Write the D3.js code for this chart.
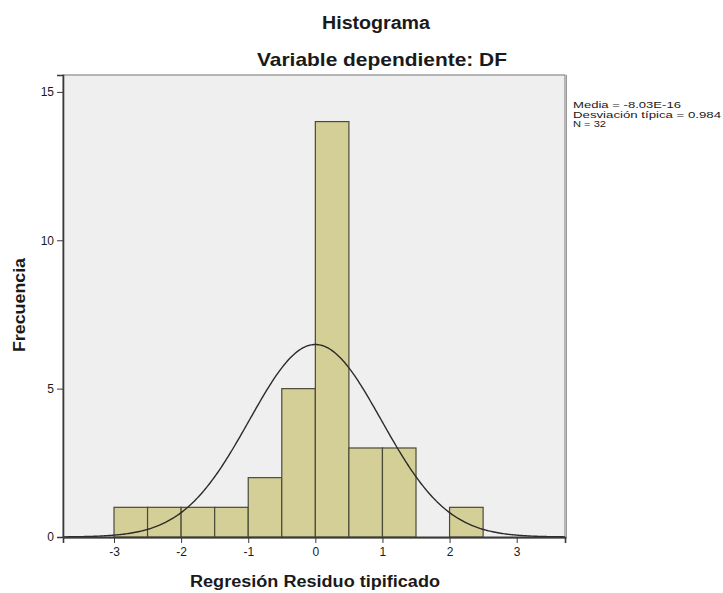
<!DOCTYPE html>
<html>
<head>
<meta charset="utf-8">
<script src="https://cdn.jsdelivr.net/npm/d3@7/dist/d3.min.js"></script>
<style>
  html, body { margin: 0; padding: 0; background: #ffffff; }
  svg { display: block; }
  text { font-family: "Liberation Sans", Arial, sans-serif; fill: #1a1a1a; }
</style>
</head>
<body>
<svg id="chart" width="723" height="593"></svg>
<script>
// ---- data ----
const binEdges = [-3, -2.5, -2, -1.5, -1, -0.5, 0, 0.5, 1, 1.5, 2, 2.5];
const counts   = [1, 1, 1, 1, 2, 5, 14, 3, 3, 0, 1];
const xTicks   = [-3, -2, -1, 0, 1, 2, 3];
const yTicks   = [0, 5, 10, 15];
const statMean = -8.03e-16;
const statSd   = 0.984;
const statN    = 32;
const legendLines = ["Media = -8.03E-16", "Desviación típica = 0.984", "N = 32"];
const titleLines  = ["Histograma", "Variable dependiente: DF"];
const xLabel = "Regresión Residuo tipificado";
const yLabel = "Frecuencia";

// ---- layout ----
const svg = d3.select("#chart");
const plot = { left: 63, right: 565, top: 75, bottom: 537 };

const x = d3.scaleLinear().domain([-3.76, 3.72]).range([plot.left, plot.right]);
const y = d3.scaleLinear().domain([0, 15.57]).range([plot.bottom, plot.top]);

// plot background + frame
svg.append("rect")
  .attr("x", plot.left).attr("y", plot.top)
  .attr("width", plot.right - plot.left).attr("height", plot.bottom - plot.top)
  .attr("fill", "#efefef");

svg.append("line").attr("x1", plot.right + 1.5).attr("x2", plot.right + 1.5)
  .attr("y1", plot.top).attr("y2", plot.bottom + 1.5)
  .attr("stroke", "#9a9a9a").attr("stroke-width", 1);
svg.append("line").attr("x1", plot.left).attr("x2", plot.right + 1.5)
  .attr("y1", plot.bottom + 1.5).attr("y2", plot.bottom + 1.5)
  .attr("stroke", "#9a9a9a").attr("stroke-width", 1);
svg.append("rect")
  .attr("x", plot.left).attr("y", plot.top)
  .attr("width", plot.right - plot.left).attr("height", plot.bottom - plot.top)
  .attr("fill", "none").attr("stroke", "#8a8a8a").attr("stroke-width", 1.2);

// bars
const bins = counts.map((c, i) => ({ x0: binEdges[i], x1: binEdges[i + 1], c }));
svg.append("g").selectAll("rect")
  .data(bins.filter(d => d.c > 0))
  .join("rect")
  .attr("x", d => x(d.x0))
  .attr("y", d => y(d.c))
  .attr("width", d => x(d.x1) - x(d.x0))
  .attr("height", d => y(0) - y(d.c))
  .attr("fill", "#d4cf97")
  .attr("stroke", "#4b4a38")
  .attr("stroke-width", 1.2);

// normal curve from the stated statistics
const bw = binEdges[1] - binEdges[0];
const pdf = v => statN * bw * Math.exp(-0.5 * Math.pow((v - statMean) / statSd, 2)) / (statSd * Math.sqrt(2 * Math.PI));
const xs = d3.range(x.domain()[0], x.domain()[1] + 0.001, 0.02);
svg.append("path")
  .datum(xs)
  .attr("d", d3.line().x(v => x(v)).y(v => y(pdf(v))))
  .attr("fill", "none")
  .attr("stroke", "#2b2b2b")
  .attr("stroke-width", 1.4);

// axes
const yAxis = d3.axisLeft(y).tickValues(yTicks).tickSize(6).tickPadding(3).tickFormat(d3.format("d"));
const gy = svg.append("g").attr("transform", `translate(${plot.left},0)`).call(yAxis);
gy.select(".domain").attr("stroke", "#3a3a3a").attr("stroke-width", 1.6);
gy.selectAll(".tick line").attr("stroke", "#3a3a3a");
gy.selectAll(".tick text").style("font-size", "12px").style("font-family", "Liberation Sans, Arial, sans-serif").attr("fill", "#333");

const xAxis = d3.axisBottom(x).tickValues(xTicks).tickSize(6).tickPadding(4).tickFormat(d3.format("d"));
const gx = svg.append("g").attr("transform", `translate(0,${plot.bottom})`).call(xAxis);
gx.select(".domain").attr("stroke", "#3a3a3a").attr("stroke-width", 1.6);
gx.selectAll(".tick line").attr("stroke", "#3a3a3a");
gx.selectAll(".tick text").style("font-size", "12px").style("font-family", "Liberation Sans, Arial, sans-serif").attr("fill", "#333")
  .text(d => d < 0 ? "-" + Math.abs(d) : String(d));

// titles
svg.append("text").attr("x", 376).attr("y", 29).attr("text-anchor", "middle")
  .style("font-size", "18px").style("font-weight", "bold")
  .attr("textLength", 108).attr("lengthAdjust", "spacingAndGlyphs")
  .text(titleLines[0]);
svg.append("text").attr("x", 382).attr("y", 66).attr("text-anchor", "middle")
  .style("font-size", "19px").style("font-weight", "bold")
  .attr("textLength", 250).attr("lengthAdjust", "spacingAndGlyphs")
  .text(titleLines[1]);

// axis labels
svg.append("text").attr("x", 315).attr("y", 587).attr("text-anchor", "middle")
  .style("font-size", "16px").style("font-weight", "bold")
  .attr("textLength", 250).attr("lengthAdjust", "spacingAndGlyphs")
  .text(xLabel);
svg.append("text").attr("transform", "translate(25,305) rotate(-90)").attr("text-anchor", "middle")
  .style("font-size", "16px").style("font-weight", "bold")
  .attr("textLength", 94).attr("lengthAdjust", "spacingAndGlyphs")
  .text(yLabel);

// legend statistics
const legendLens = [108, 148, 33];
svg.append("g").selectAll("text")
  .data(legendLines)
  .join("text")
  .attr("x", 573)
  .attr("y", (d, i) => 108 + i * 9.5)
  .style("font-size", "9.5px")
  .attr("fill", "#333")
  .attr("textLength", (d, i) => legendLens[i])
  .attr("lengthAdjust", "spacingAndGlyphs")
  .text(d => d);
</script>
</body>
</html>
